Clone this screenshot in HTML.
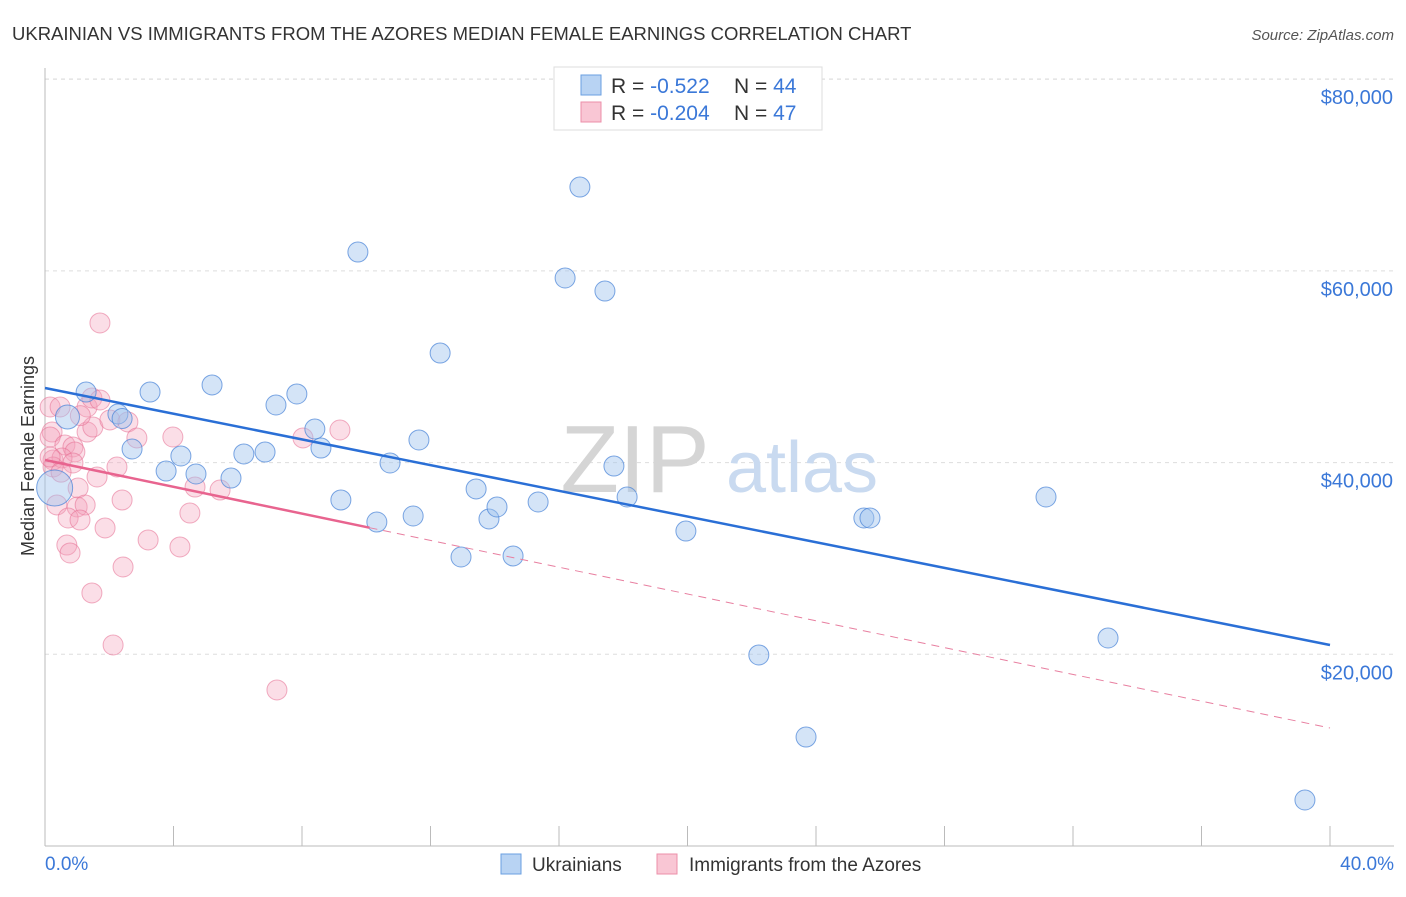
<!DOCTYPE html>
<html><head><meta charset="utf-8"><style>
body{margin:0;background:#fff;font-family:"Liberation Sans",sans-serif;}
svg text{font-family:"Liberation Sans",sans-serif;}
</style></head><body>
<svg id="chart" width="1406" height="892" xmlns="http://www.w3.org/2000/svg">
<text x="12" y="40" font-size="18.5" fill="#333">UKRAINIAN VS IMMIGRANTS FROM THE AZORES MEDIAN FEMALE EARNINGS CORRELATION CHART</text>
<text x="1394" y="40" font-size="15" fill="#555" font-style="italic" text-anchor="end">Source: ZipAtlas.com</text>
<g id="grid"></g>
<text x="635" y="492" font-size="96" fill="#d5d5d5" font-family="Liberation Serif" text-anchor="middle">ZIP</text>
<text x="802" y="492" font-size="72" fill="#c9daf0" text-anchor="middle">atlas</text>
<line x1="45" y1="68" x2="45" y2="846" stroke="#bbb"/>
<line x1="45" y1="846" x2="1394" y2="846" stroke="#bbb"/>
<g id="ticks"></g>
<text transform="translate(34,456) rotate(-90)" font-size="18" fill="#333" text-anchor="middle">Median Female Earnings</text>
<text x="45" y="870" font-size="19" fill="#3b78d8">0.0%</text>
<text x="1394" y="870" font-size="19" fill="#3b78d8" text-anchor="end">40.0%</text>
<g id="pink"></g>
<g id="blue"></g>
<g id="lines"></g>
<g>
<rect x="554" y="67" width="268" height="63" fill="#fff" stroke="#ddd"/>
<rect x="581" y="75" width="20" height="20" fill="#b8d3f3" stroke="#6a9fe0"/>
<rect x="581" y="102" width="20" height="20" fill="#f9c6d4" stroke="#ec8fa9"/>
<text x="611" y="93" font-size="21" fill="#333">R = <tspan fill="#3b78d8">-0.522</tspan><tspan x="734">N = </tspan><tspan fill="#3b78d8">44</tspan></text>
<text x="611" y="120" font-size="21" fill="#333">R = <tspan fill="#3b78d8">-0.204</tspan><tspan x="734">N = </tspan><tspan fill="#3b78d8">47</tspan></text>
</g>
<g>
<rect x="501" y="854" width="20" height="20" fill="#b8d3f3" stroke="#6a9fe0"/>
<text x="532" y="871" font-size="19" fill="#333">Ukrainians</text>
<rect x="657" y="854" width="20" height="20" fill="#f9c6d4" stroke="#ec8fa9"/>
<text x="689" y="871" font-size="19" fill="#333">Immigrants from the Azores</text>
</g>
</svg>
<script>
const yTicks=[20000,40000,60000,80000];
const yTickLabels=["$20,000","$40,000","$60,000","$80,000"];
const xTicks=[0,4,8,12,16,20,24,28,32,36,40];
const blueX=[0.3,0.7,1.28,2.27,2.71,3.27,3.77,4.23,4.7,5.2,5.79,6.19,6.85,7.19,7.84,8.4,8.59,9.21,9.74,10.33,10.74,11.46,11.64,12.3,12.95,13.42,13.82,14.07,14.57,15.35,16.19,16.65,17.43,17.71,18.12,19.95,22.22,23.69,25.49,25.68,31.16,33.09,39.22,2.4];
const blueY=[37350,44760,47360,45070,41420,47360,39120,40690,38810,48100,38390,40900,41100,46010,47160,43500,41520,36100,61970,33800,39960,34430,42360,51430,30150,37250,34120,35370,30260,35890,59260,68750,57900,39640,36410,32860,19930,11370,34220,34220,36410,21700,4800,44600];
const blueR=[18,12,10,10,10,10,10,10,10,10,10,10,10,10,10,10,10,10,10,10,10,10,10,10,10,10,10,10,10,10,10,10,10,10,10,10,10,10,10,10,10,10,10,10];
const pinkX=[1.71,0.16,0.47,1.31,1.46,1.71,0.22,0.16,1.31,1.49,2.02,2.58,2.86,0.62,0.87,0.93,0.25,0.53,0.87,0.25,2.24,1.62,1.03,2.4,0.37,1.0,1.25,0.72,1.09,1.87,0.68,0.78,3.21,4.2,2.43,1.46,2.12,4.51,4.67,5.45,3.98,8.03,9.18,7.22,0.16,1.1,0.5];
const pinkY=[54570,45800,45800,45800,46740,46530,43190,42670,43190,43710,44450,44240,42570,41840,41630,41110,40270,40480,39960,39540,39540,38500,37350,36100,35580,35370,35580,34220,34010,33180,31400,30570,31930,31200,29110,26400,20970,34740,37450,37140,42670,42570,43400,16280,40580,44900,39000];
const blueTrend=[47780,20970];
const pinkTrend=[40270,12310];
const pinkSolidEnd=10.1;
const NS="http://www.w3.org/2000/svg";
const X=v=>45+v*(1285/40);
const Y=v=>846-v*(191.7/20000);
function mk(tag,attrs,parent){const e=document.createElementNS(NS,tag);for(const k in attrs)e.setAttribute(k,attrs[k]);document.getElementById(parent).appendChild(e);return e;}
yTicks.forEach((t,i)=>{
 const l=mk('line',{x1:45,x2:1394,y1:Y(t),y2:Y(t),stroke:'#ddd','stroke-dasharray':'4,4'},'grid');
 
 
 const tx=mk('text',{x:1393,y:Y(t)+25,'font-size':20,fill:'#3b78d8','text-anchor':'end'},'grid');
 tx.textContent=yTickLabels[i];
 
 
});
const topGrid=mk('line',{x1:45,x2:1394,y1:79,y2:79,stroke:'#ddd','stroke-dasharray':'4,4'},'grid');


xTicks.forEach(t=>{
 const l=mk('line',{x1:X(t),x2:X(t),y1:826,y2:846,stroke:'#bbb'},'ticks');
 
 
});
pinkX.forEach((x,i)=>{
 const c=mk('circle',{cx:X(x),cy:Y(pinkY[i]),r:10,fill:'rgba(244,160,185,0.35)',stroke:'rgba(230,110,145,0.55)','stroke-width':1},'pink');
 
 
});
blueX.forEach((x,i)=>{
 const c=mk('circle',{cx:X(x),cy:Y(blueY[i]),r:blueR[i],fill:'rgba(160,196,238,0.45)',stroke:'rgba(70,130,215,0.7)','stroke-width':1},'blue');
 
 
});
const bl=mk('line',{x1:X(0),y1:Y(blueTrend[0]),x2:X(40),y2:Y(blueTrend[1]),stroke:'#2a6fd6','stroke-width':2.5},'lines');


const pAt=x=>pinkTrend[0]+(pinkTrend[1]-pinkTrend[0])*x/40;
const pd=mk('line',{x1:X(pinkSolidEnd),y1:Y(pAt(pinkSolidEnd)),x2:X(40),y2:Y(pinkTrend[1]),stroke:'#e87fa0','stroke-width':1,'stroke-dasharray':'8,6'},'lines');


const ps=mk('line',{x1:X(0),y1:Y(pinkTrend[0]),x2:X(pinkSolidEnd),y2:Y(pAt(pinkSolidEnd)),stroke:'#e8648f','stroke-width':2.5},'lines');


</script>
</body></html>
